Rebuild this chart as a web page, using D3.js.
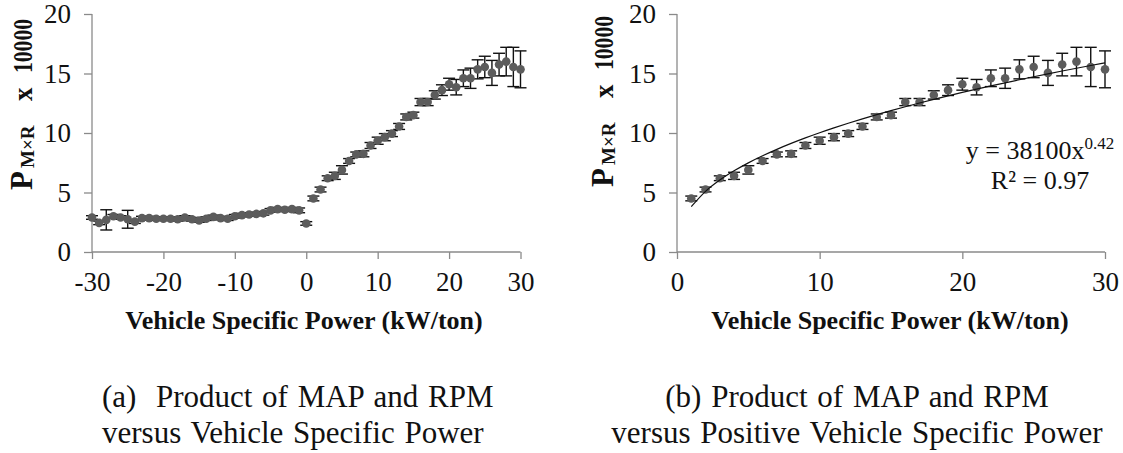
<!DOCTYPE html>
<html>
<head>
<meta charset="utf-8">
<script src="https://cdn.jsdelivr.net/npm/d3@7"></script>
<style>
  html, body { margin: 0; padding: 0; background: #fff; }
  svg { display: block; }
  text { font-family: "Liberation Serif", "Times New Roman", "DejaVu Serif", serif; fill: #111; }
</style>
</head>
<body>
<svg id="chart" width="1123" height="453"></svg>
<script>
// Vehicle specific power bins (kW/ton), negative side incl. idle bin
const vspNeg = [-30,-29,-28,-27,-26,-25,-24,-23,-22,-21,-20,-19,-18,-17,-16,-15,
                -14,-13,-12,-11,-10,-9,-8,-7,-6,-5,-4,-3,-2,-1,0];
// Mean P(MxR) / 10000 for each negative bin
const pmrNeg = [2.9,2.45,2.7,3.0,2.9,2.75,2.55,2.85,2.85,2.8,2.8,2.8,2.75,2.9,2.75,2.65,
                2.8,2.95,2.85,2.8,3.0,3.1,3.15,3.2,3.25,3.5,3.6,3.55,3.6,3.5,2.4];
// Half-width of error bars for negative bins
const errNeg = [0.15,0.15,0.85,0.15,0.15,0.75,0.15,0.15,0.15,0.15,0.15,0.15,0.15,0.15,0.15,0.15,
                0.15,0.15,0.15,0.15,0.15,0.15,0.15,0.15,0.15,0.15,0.15,0.15,0.15,0.2,0.15];

// Positive VSP bins
const vspPos = [1,2,3,4,5,6,7,8,9,10,11,12,13,14,15,16,17,18,19,20,21,22,23,24,25,26,27,28,29,30];
const pmrPos = [4.5,5.25,6.2,6.4,6.9,7.65,8.2,8.25,8.95,9.35,9.65,9.95,10.55,11.35,11.5,12.6,
                12.6,13.2,13.6,14.1,13.85,14.6,14.6,15.35,15.55,15.05,15.75,16.0,15.55,15.35];
const errPos = [0.2,0.2,0.2,0.3,0.35,0.2,0.2,0.25,0.25,0.3,0.3,0.25,0.25,0.25,0.25,0.3,
                0.3,0.35,0.45,0.5,0.65,0.7,0.85,0.8,0.9,1.05,0.95,1.2,1.65,1.55];

// Power-law fit y = a * x^b (a in units of 10000)
const fitCoef = 38100;
const fitExp = 0.42;
const fitX = [1,2,3,4,5,6,7,8,9,10,11,12,13,14,15,16,17,18,19,20,21,22,23,24,25,26,27,28,29,30];

const yTicks = [0,5,10,15,20];
const xTicksA = [-30,-20,-10,0,10,20,30];
const xTicksB = [0,10,20,30];

const xTitle = "Vehicle Specific Power (kW/ton)";
const captionA = ["(a)\u00a0 Product of MAP and RPM", "versus Vehicle Specific Power"];
const captionB = ["(b) Product of MAP and RPM", "versus Positive Vehicle Specific Power"];

const svg = d3.select("#chart");
const axisColor = "#8a8a8a";
const markColor = "#5c5c5c";
const fmt = d => String(d); // plain hyphen for negatives

const yScale = d3.scaleLinear().domain([0, 20]).range([252, 14]);

function panel(opts) {
  const g = svg.append("g");
  const x = opts.x;

  // y axis
  const ya = g.append("g").attr("transform", `translate(${x.range()[0]},0)`)
    .call(d3.axisLeft(yScale).tickValues(yTicks).tickSize(8).tickPadding(13).tickFormat(fmt));
  // x axis
  const xa = g.append("g").attr("transform", `translate(0,${yScale(0)})`)
    .call(d3.axisBottom(x).tickValues(opts.xTicks).tickSize(7).tickPadding(13).tickFormat(fmt));
  [ya, xa].forEach(a => {
    a.attr("font-family", null);
    a.select(".domain").attr("stroke", axisColor).attr("stroke-width", 1.3);
    a.selectAll(".tick line").attr("stroke", axisColor).attr("stroke-width", 1.3);
    a.selectAll(".tick text").attr("font-size", 27).attr("fill", "#111");
  });
  ya.select(".domain").attr("d", `M0,${yScale(20)}V${yScale(0)}`);
  xa.select(".domain").attr("d", `M${x.range()[0]},0H${x.range()[1]}`);

  // error bars + markers
  opts.series.forEach(s => {
    const pts = s.x.map((v, i) => ({x: v, y: s.y[i], e: s.e[i]}));
    const eb = g.append("g").attr("stroke", "#111").attr("stroke-width", 1.4);
    pts.forEach(p => {
      const cx = x(p.x), y1 = yScale(p.y + p.e), y2 = yScale(p.y - p.e);
      eb.append("line").attr("x1", cx).attr("x2", cx).attr("y1", y1).attr("y2", y2);
      eb.append("line").attr("x1", cx - 6).attr("x2", cx + 6).attr("y1", y1).attr("y2", y1);
      eb.append("line").attr("x1", cx - 6).attr("x2", cx + 6).attr("y1", y2).attr("y2", y2);
    });
    g.append("g").selectAll("circle").data(pts).join("circle")
      .attr("cx", d => x(d.x)).attr("cy", d => yScale(d.y)).attr("r", 4.3)
      .attr("fill", markColor);
  });

  if (opts.fit) {
    const line = d3.line().x(d => x(d)).y(d => yScale(fitCoef * Math.pow(d, fitExp) / 10000))
      .curve(d3.curveMonotoneX);
    g.append("path").attr("d", line(fitX)).attr("fill", "none")
      .attr("stroke", "#111").attr("stroke-width", 1.2);
  }

  // y axis title, rotated: P with subscript MxR, then "x 10000"
  const yt = g.append("g").attr("transform", `translate(${opts.yTitleX},${opts.yTitleY}) rotate(-90)`)
    .attr("font-weight", "bold").attr("fill", "#111");
  yt.append("text").attr("x", 0).attr("y", 0).attr("font-size", 31).attr("font-weight", "bold").text("P");
  yt.append("text").attr("x", 22).attr("y", 2).attr("font-size", 19).attr("font-weight", "bold").text("M×R");
  yt.append("text").attr("x", 89).attr("y", 0).attr("font-size", 27).attr("font-weight", "bold").text("x");
  yt.append("text").attr("x", 117).attr("y", 0).attr("font-size", 27).attr("font-weight", "bold")
    .attr("textLength", 54).attr("lengthAdjust", "spacingAndGlyphs").text("10000");

  // x axis title
  g.append("text").attr("x", opts.titleCx).attr("y", 329).attr("text-anchor", "middle")
    .attr("font-size", 26).attr("font-weight", "bold").text(xTitle);

  // caption
  opts.caption.forEach((t, i) => {
    g.append("text").attr("x", opts.capX).attr("y", 407 + i * 36)
      .attr("text-anchor", opts.capAnchor).attr("font-size", 31).attr("word-spacing", 2).text(t);
  });
}

panel({
  x: d3.scaleLinear().domain([-30, 30]).range([92, 520.5]),
  xTicks: xTicksA,
  series: [{x: vspNeg, y: pmrNeg, e: errNeg}, {x: vspPos, y: pmrPos, e: errPos}],
  fit: false,
  yTitleX: 32, yTitleY: 190,
  titleCx: 304,
  caption: captionA, capX: 102, capAnchor: "start"
});

panel({
  x: d3.scaleLinear().domain([0, 30]).range([677, 1105]),
  xTicks: xTicksB,
  series: [{x: vspPos, y: pmrPos, e: errPos}],
  fit: true,
  yTitleX: 613, yTitleY: 187,
  titleCx: 890,
  caption: captionB, capX: 857, capAnchor: "middle"
});

// fit equation
const eq = svg.append("g").attr("font-size", 26);
const l1 = eq.append("text").attr("x", 1040).attr("y", 159).attr("text-anchor", "middle");
l1.append("tspan").text(`y = ${fitCoef}x`);
l1.append("tspan").attr("dy", -10).attr("font-size", 17).text(fitExp.toFixed(2));
eq.append("text").attr("x", 1040).attr("y", 189).attr("text-anchor", "middle").text("R² = 0.97");
</script>
</body>
</html>
